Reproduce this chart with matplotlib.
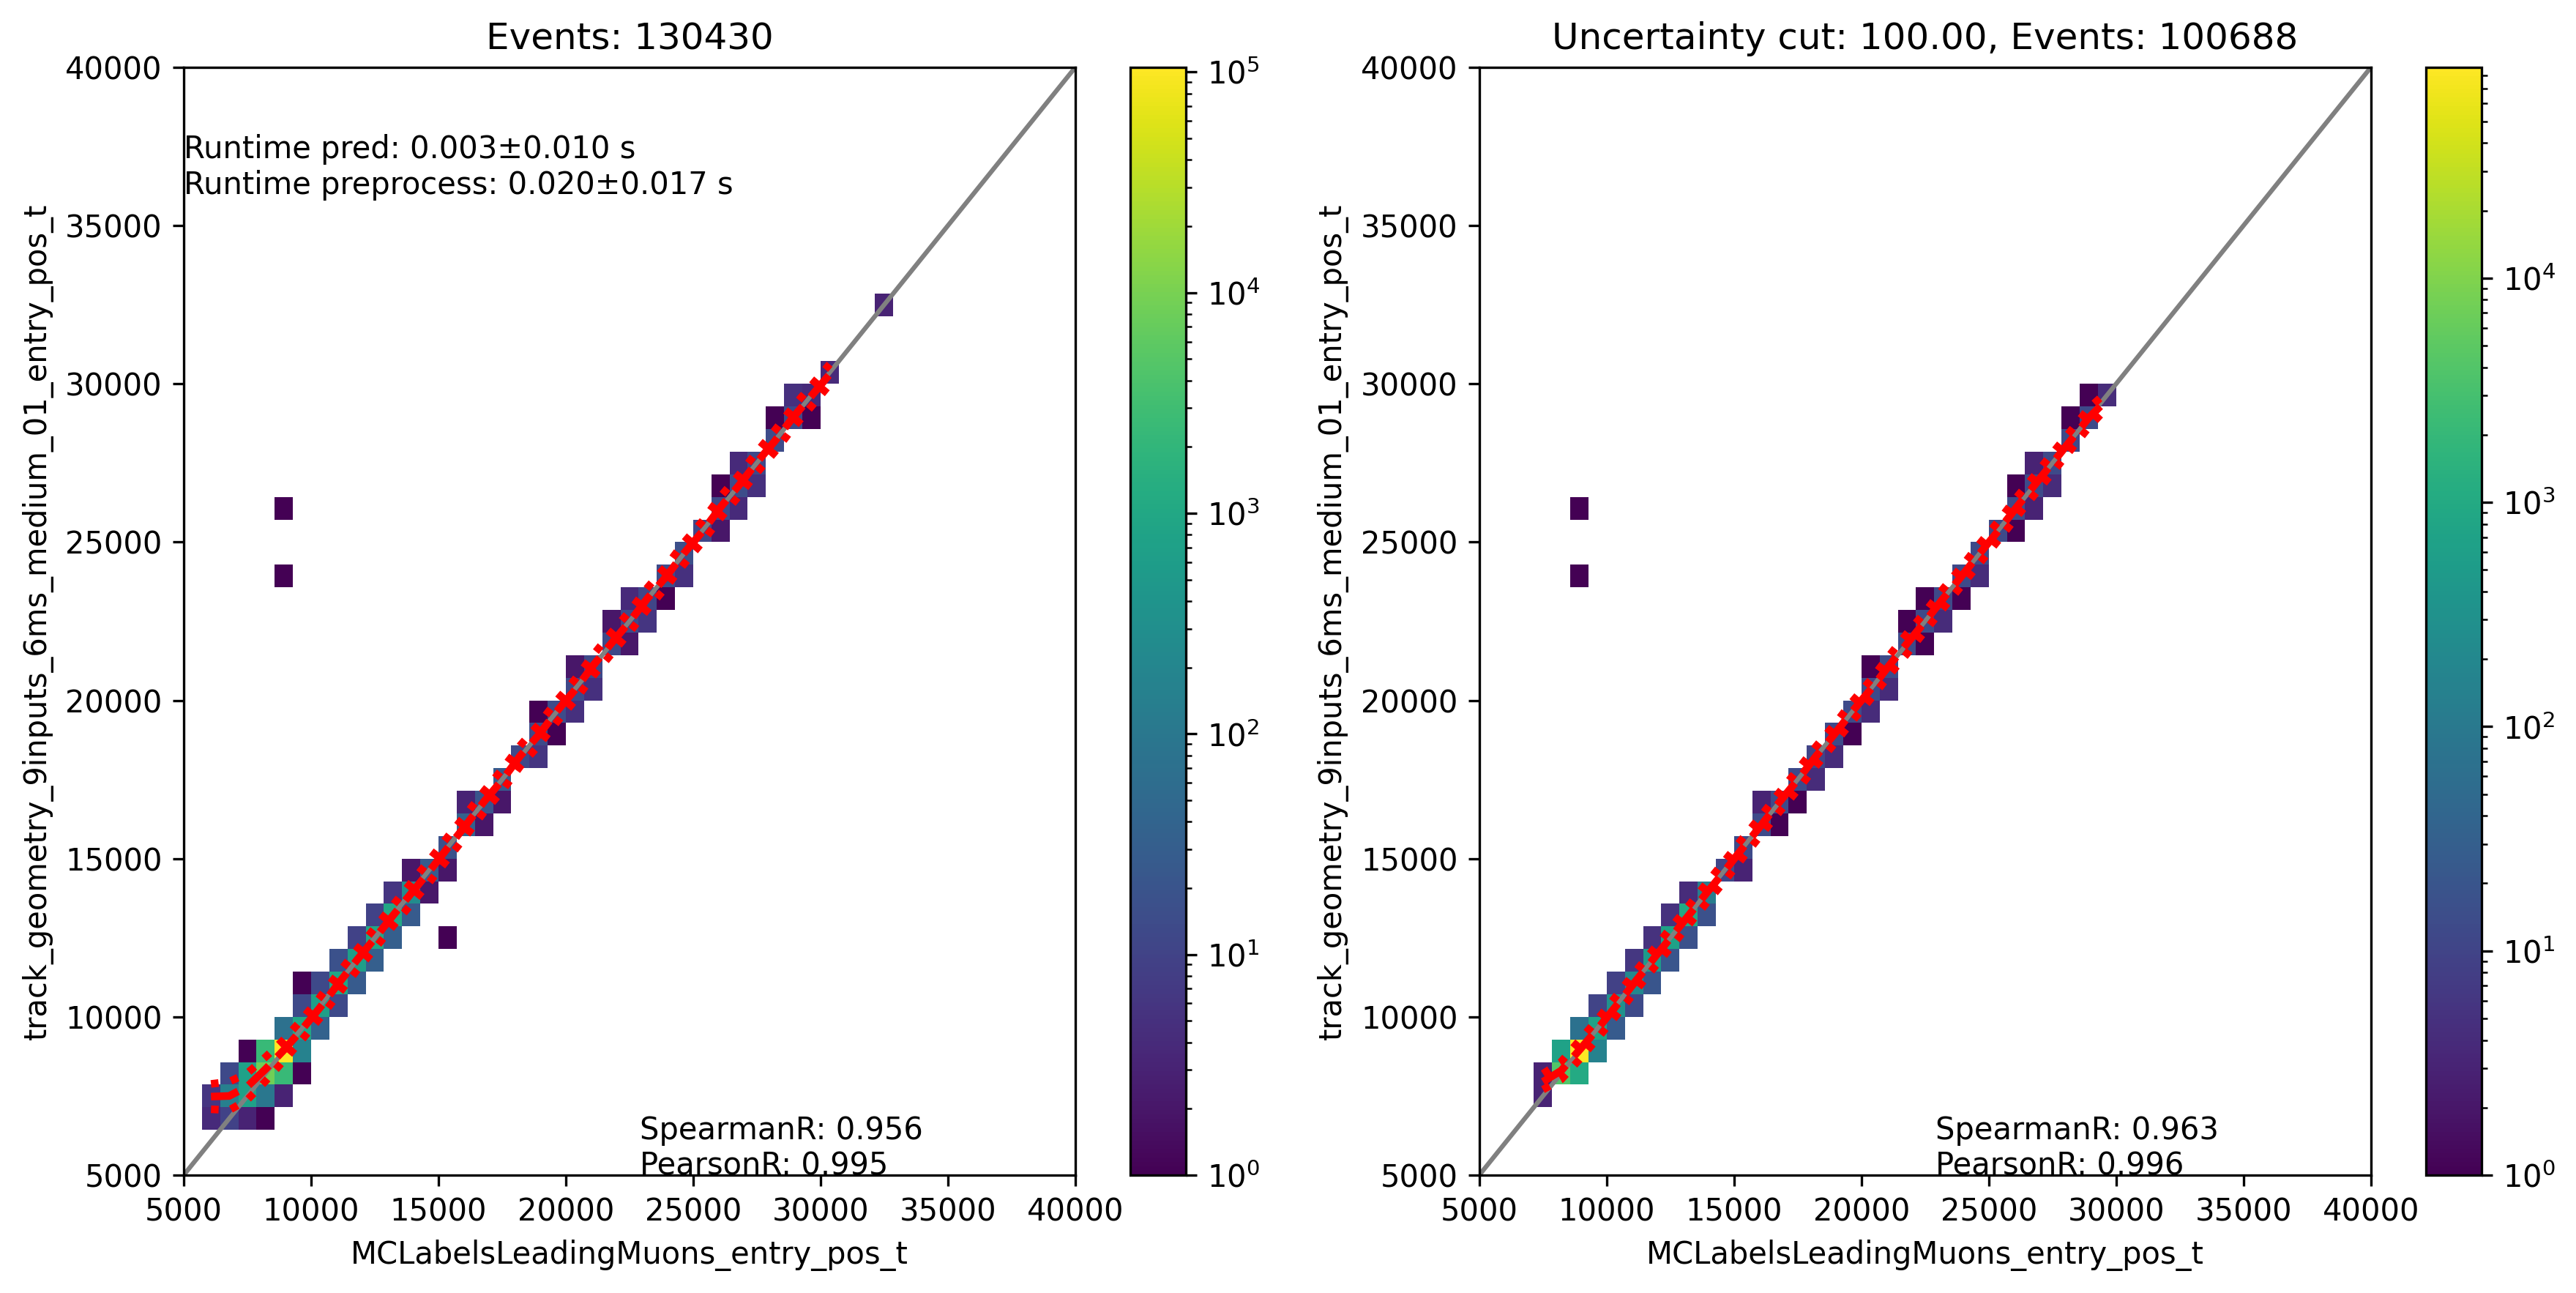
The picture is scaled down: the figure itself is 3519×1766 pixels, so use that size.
import numpy as np
import matplotlib
matplotlib.use("Agg")
from matplotlib import pyplot as plt
from matplotlib.colors import LogNorm

# shared bin edges of both 2d histograms
bin_edges = np.linspace(5000, 40000, 50)

# left panel: occupied cells (x bin, y bin, entries)
left_col = [1, 2, 3, 4,
            1, 2, 3, 4, 5,
            2, 3, 4, 5, 6,
            3, 4, 5, 6,
            5, 6, 7,
            6, 7, 8,
            6, 7, 8, 9,
            8, 9, 10,
            9, 10, 11, 14,
            10, 11, 12,
            11, 12, 13,
            12, 13, 14,
            14,
            15, 16,
            15, 16, 17,
            17,
            18, 19,
            19, 20,
            19, 20, 21,
            21, 22,
            21, 22,
            23, 24,
            23, 24, 25,
            24, 25, 26,
            26, 27,
            27,
            28, 29,
            29, 30,
            29, 30, 31,
            30, 31,
            32,
            32, 33, 34,
            33, 34,
            35,
            5, 5, 38]
left_row = [2, 2, 2, 2,
            3, 3, 3, 3, 3,
            4, 4, 4, 4, 4,
            5, 5, 5, 5,
            6, 6, 6,
            7, 7, 7,
            8, 8, 8, 8,
            9, 9, 9,
            10, 10, 10, 10,
            11, 11, 11,
            12, 12, 12,
            13, 13, 13,
            14,
            15, 15,
            16, 16, 16,
            17,
            18, 18,
            19, 19,
            20, 20, 20,
            21, 21,
            22, 22,
            23, 23,
            24, 24, 24,
            25, 25, 25,
            26, 26,
            27,
            28, 28,
            29, 29,
            30, 30, 30,
            31, 31,
            32,
            33, 33, 33,
            34, 34,
            35,
            26, 29, 38]
left_count = [4, 10, 3, 1,
              6, 150, 700, 100, 3,
              13, 700, 8500, 2400, 1,
              1, 2400, 105000, 160,
              73, 940, 36,
              13, 660, 13,
              1, 13, 940, 26,
              18, 660, 32,
              10, 940, 32, 1,
              10, 1000, 26,
              6, 260, 2,
              2, 26, 2,
              18,
              36, 2,
              3, 20, 2,
              26,
              13, 6,
              13, 1,
              1, 14, 5,
              13, 5,
              2, 13,
              13, 2,
              2, 13, 6,
              4, 11, 1,
              14, 5,
              16,
              11, 2,
              13, 4,
              1, 15, 5,
              4, 13,
              14,
              1, 13, 1,
              5, 4,
              4,
              1, 1, 3]

# right panel (after uncertainty cut)
right_col = [3,
             3, 4, 5,
             4, 5, 6,
             5, 6, 7,
             6, 7, 8,
             7, 8, 9,
             8, 9, 10,
             9, 10, 11,
             10, 11, 12,
             11, 12,
             13, 14,
             14,
             15, 16,
             15, 16, 17,
             17, 18,
             18, 19,
             19, 20,
             20, 21,
             21, 22,
             21, 22,
             23, 24,
             23, 24, 25,
             24, 25, 26,
             26, 27,
             27,
             28, 29,
             29, 30,
             29, 30, 31,
             30, 31,
             32,
             32, 33,
             33, 34,
             5, 5]
right_row = [3,
             4, 4, 4,
             5, 5, 5,
             6, 6, 6,
             7, 7, 7,
             8, 8, 8,
             9, 9, 9,
             10, 10, 10,
             11, 11, 11,
             12, 12,
             13, 13,
             14,
             15, 15,
             16, 16, 16,
             17, 17,
             18, 18,
             19, 19,
             20, 20,
             21, 21,
             22, 22,
             23, 23,
             24, 24, 24,
             25, 25, 25,
             26, 26,
             27,
             28, 28,
             29, 29,
             30, 30, 30,
             31, 31,
             32,
             33, 33,
             34, 34,
             26, 29]
right_count = [3,
               3, 4000, 1000,
               700, 87000, 150,
               70, 700, 25,
               10, 300, 13,
               9, 200, 20,
               6, 500, 20,
               5, 700, 17,
               5, 900, 17,
               4, 120,
               11, 3,
               13,
               13, 1,
               3, 13, 1,
               13, 4,
               10, 4,
               13, 1,
               13, 4,
               13, 4,
               1, 13,
               13, 1,
               1, 13, 4,
               1, 13, 1,
               13, 4,
               13,
               13, 1,
               13, 3,
               1, 13, 4,
               3, 13,
               13,
               1, 13,
               1, 4,
               1, 1]

# profile of the prediction per true-value bin (mean and spread)
left_prof_x = [6071, 6786, 7500, 8214, 8929, 9643, 10357, 11071, 11786, 12500,
               13214, 13929, 14643, 15357, 16071, 16786, 17500, 18214, 18929, 19643,
               20357, 21071, 21786, 22500, 23214, 23929, 24643, 25357, 26071, 26786,
               27500, 28214, 28929, 29643, 30357]
left_prof_mean = [7480, 7500, 7800, 8350, 8950, 9600, 10300, 11050, 11780, 12480,
                  13200, 13900, 14600, 15330, 16050, 16800, 17480, 18250, 18900, 19650,
                  20330, 21100, 21800, 22480, 23230, 23900, 24650, 25330, 26100, 26780,
                  27520, 28200, 28950, 29620, 30300]
left_prof_std = [400, 450, 420, 380, 330, 320, 330, 330, 320, 330,
                 330, 340, 350, 350, 340, 330, 340, 330, 330, 340,
                 330, 330, 340, 330, 340, 330, 340, 330, 340, 330,
                 330, 340, 330, 330, 320]

right_prof_x = [7500, 8214, 8929, 9643, 10357, 11071, 11786, 12500,
                13214, 13929, 14643, 15357, 16071, 16786, 17500, 18214, 18929, 19643,
                20357, 21071, 21786, 22500, 23214, 23929, 24643, 25357, 26071, 26786,
                27500, 28214, 28929, 29643]
right_prof_mean = [7950, 8300, 8950, 9620, 10330, 11060, 11780, 12490,
                   13200, 13920, 14620, 15350, 16060, 16790, 17490, 18230, 18920, 19650,
                   20340, 21080, 21790, 22490, 23220, 23920, 24640, 25340, 26080, 26790,
                   27500, 28210, 28930, 29500]
right_prof_std = [250, 280, 300, 300, 310, 310, 300, 310,
                  300, 310, 320, 310, 300, 310, 320, 310, 300, 310,
                  300, 310, 320, 300, 310, 300, 310, 300, 310, 300,
                  310, 300, 300, 250]

panels = [
    dict(col=left_col, row=left_row, count=left_count,
         px=left_prof_x, pm=left_prof_mean, ps=left_prof_std,
         title="Events: 130430", spear="0.956", pear="0.995"),
    dict(col=right_col, row=right_row, count=right_count,
         px=right_prof_x, pm=right_prof_mean, ps=right_prof_std,
         title="Uncertainty cut: 100.00, Events: 100688", spear="0.963", pear="0.996"),
]

fig = plt.figure(figsize=(3520 / 300, 1766 / 300), dpi=300)
ax_pos = [[0.0713, 0.0912, 0.3460, 0.8567], [0.5741, 0.0912, 0.3460, 0.8567]]
cax_pos = [[0.4386, 0.0912, 0.0216, 0.8567], [0.9415, 0.0912, 0.0216, 0.8567]]

centres = 0.5 * (bin_edges[:-1] + bin_edges[1:])

for i, p in enumerate(panels):
    ax = fig.add_axes(ax_pos[i])
    cax = fig.add_axes(cax_pos[i])

    xs = centres[np.array(p["col"])]
    ys = centres[np.array(p["row"])]
    w = np.array(p["count"], dtype=float)
    h = ax.hist2d(xs, ys, bins=[bin_edges, bin_edges], weights=w, cmin=0.5,
                  norm=LogNorm(vmin=1, vmax=w.max()), cmap="viridis")
    fig.colorbar(h[3], cax=cax)

    ax.plot([5000, 40000], [5000, 40000], color="gray", lw=1.5)

    px = np.array(p["px"])
    pm = np.array(p["pm"])
    ps = np.array(p["ps"])
    ax.plot(px, pm, "r--", lw=2.5)
    ax.plot(px, pm + ps, "r:", lw=2.5)
    ax.plot(px, pm - ps, "r:", lw=2.5)

    ax.set_xlim(5000, 40000)
    ax.set_ylim(5000, 40000)
    ax.set_xlabel("MCLabelsLeadingMuons_entry_pos_t")
    ax.set_ylabel("track_geometry_9inputs_6ms_medium_01_entry_pos_t")
    ax.set_title(p["title"])
    ax.text(22900, 5000, "SpearmanR: " + p["spear"] + "\nPearsonR: " + p["pear"])
    if i == 0:
        ax.text(5000, 36000, "Runtime pred: 0.003\u00b10.010 s\nRuntime preprocess: 0.020\u00b10.017 s")

fig.savefig("out.png", dpi=300)
